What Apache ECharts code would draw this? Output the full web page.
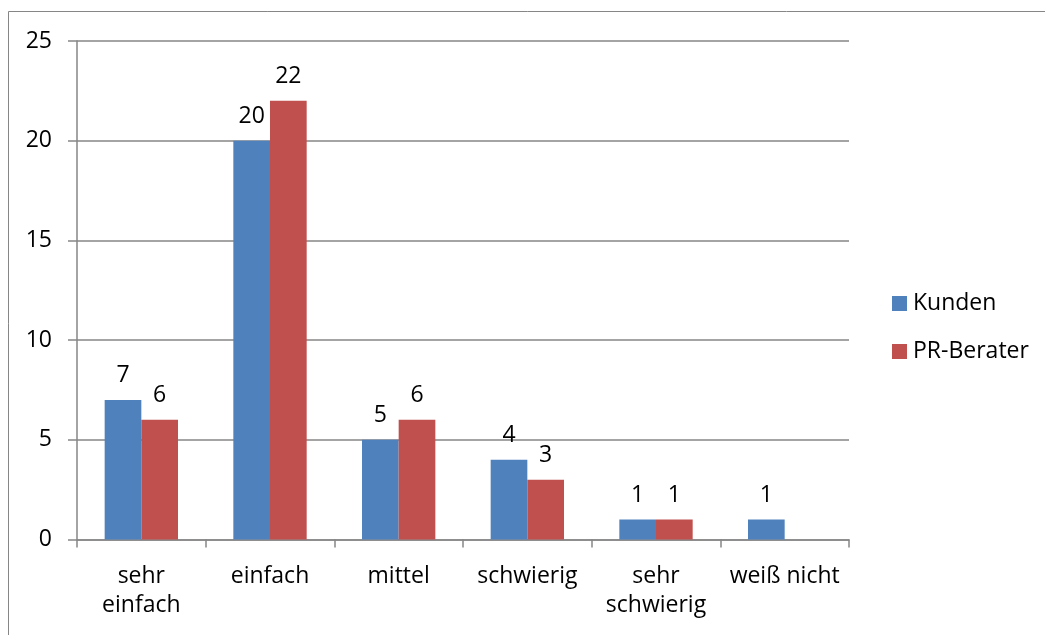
<!DOCTYPE html>
<html>
<head>
<meta charset="utf-8">
<script src="https://cdn.jsdelivr.net/npm/echarts@6/dist/echarts.min.js"></script>
<style>
  html, body { margin: 0; padding: 0; background: #fff; }
  #chart { width: 1045px; height: 635px; }
</style>
</head>
<body>
<div id="chart"></div>
<script>
// Antworten nach Schwierigkeitsgrad
const categories = ['sehr\neinfach', 'einfach', 'mittel', 'schwierig', 'sehr\nschwierig', 'weiß nicht'];
const kunden = [7, 20, 5, 4, 1, 1];
const prBerater = [6, 22, 6, 3, 1, null];
const yTicks = { min: 0, max: 25, interval: 5 };

const FONT = '"Open Sans", Lato, sans-serif';
const FONT_SIZE = 23;
const AXIS_GRAY = '#868686';

const chart = echarts.init(document.getElementById('chart'), null, { renderer: 'canvas' });

const labelStyle = {
  show: true,
  position: 'top',
  distance: 13,
  color: '#000',
  fontFamily: FONT,
  fontSize: FONT_SIZE
};

chart.setOption({
  backgroundColor: '#fff',
  animation: false,
  graphic: [{
    type: 'rect',
    shape: { x: 8.5, y: 11.5, width: 1100, height: 700 },
    style: { fill: 'none', stroke: AXIS_GRAY, lineWidth: 1 },
    silent: true
  }],
  grid: { left: 77, right: 196, top: 41, bottom: 95.5 },
  legend: {
    orient: 'vertical',
    left: 892,
    top: 292,
    padding: 0,
    itemWidth: 15,
    itemHeight: 15,
    itemGap: 25,
    icon: 'rect',
    textStyle: { color: '#000', fontFamily: FONT, fontSize: FONT_SIZE, padding: [0, 0, 0, 1] },
    data: ['Kunden', 'PR-Berater']
  },
  xAxis: {
    type: 'category',
    data: categories,
    axisLine: { lineStyle: { color: AXIS_GRAY, width: 1.5 } },
    axisTick: { show: true, length: 8, lineStyle: { color: AXIS_GRAY, width: 1.5 } },
    axisLabel: {
      color: '#000',
      fontFamily: FONT,
      fontSize: FONT_SIZE,
      lineHeight: 29,
      margin: 22,
      interval: 0
    }
  },
  yAxis: {
    type: 'value',
    min: yTicks.min,
    max: yTicks.max,
    interval: yTicks.interval,
    axisLine: { show: true, lineStyle: { color: AXIS_GRAY, width: 1.5 } },
    axisTick: { show: true, length: 9, lineStyle: { color: AXIS_GRAY, width: 1.5 } },
    splitLine: { lineStyle: { color: AXIS_GRAY, width: 1.5 } },
    axisLabel: {
      color: '#000',
      fontFamily: FONT,
      fontSize: FONT_SIZE,
      margin: 25
    }
  },
  series: [
    {
      name: 'Kunden',
      type: 'bar',
      data: kunden,
      barGap: '0%',
      barCategoryGap: '43%',
      itemStyle: { color: '#4F81BD' },
      label: labelStyle
    },
    {
      name: 'PR-Berater',
      type: 'bar',
      data: prBerater,
      itemStyle: { color: '#C0504D' },
      label: labelStyle
    }
  ]
});
</script>
</body>
</html>
